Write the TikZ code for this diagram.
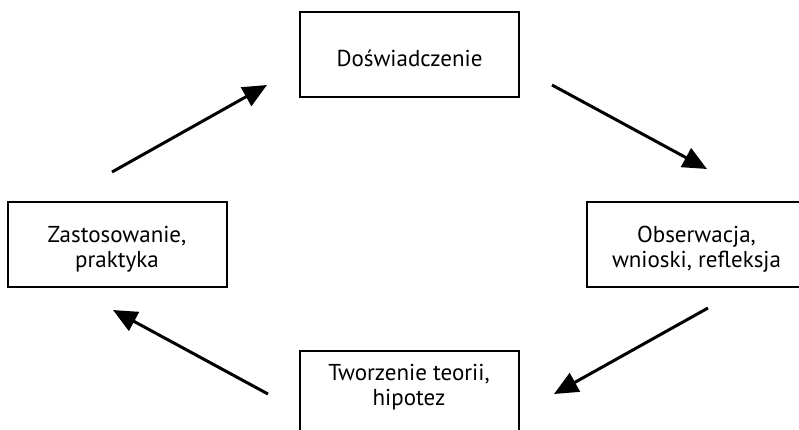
\documentclass[tikz,border=0pt]{standalone}
\usepackage{fontspec}
\setmainfont{PT Sans}
\usetikzlibrary{arrows.meta}
\usetikzlibrary{positioning}

\begin{document}
\begin{tikzpicture}[x=1pt, y=-1pt,
  stage/.style={draw, line width=2pt, minimum width=219pt, minimum height=85pt,
    inner sep=0pt, align=center, font=\fontsize{23}{25}\selectfont},
  flow/.style={-{Triangle[length=24pt, width=21pt]}, line width=3pt}]

 \useasboundingbox (0,0) rectangle (799,429);

 %boxes
 \node[stage, text height=23pt, text depth=0pt] (dosw) at (409.5, 54.5) {Doświadczenie};
 \node[stage, text height=46pt, text depth=0pt] (obs) at (696.5, 244.5) {Obserwacja,\\ wnioski, refleksja};
 \node[stage, minimum height=100pt, text height=38pt, text depth=30pt] (teoria) at (409, 401) {Tworzenie teorii,\\ hipotez};
 \node[stage, text height=46pt, text depth=0pt] (praktyka) at (117, 244.5) {Zastosowanie,\\ praktyka};

 %arrow ends
 \coordinate (dosw out) at (552, 85);
 \coordinate (obs in)   at (707, 169);
 \coordinate (obs out)  at (708, 308);
 \coordinate (teoria in)  at (554, 394);
 \coordinate (teoria out) at (268, 394);
 \coordinate (praktyka in)  at (113, 310);
 \coordinate (praktyka out) at (112, 172);
 \coordinate (dosw in) at (267, 85);

 %arrows
 \foreach \from/\to in {dosw out/obs in, obs out/teoria in, teoria out/praktyka in, praktyka out/dosw in} {
     \draw[flow] (\from) -- (\to);
 }

\end{tikzpicture}
\end{document}
